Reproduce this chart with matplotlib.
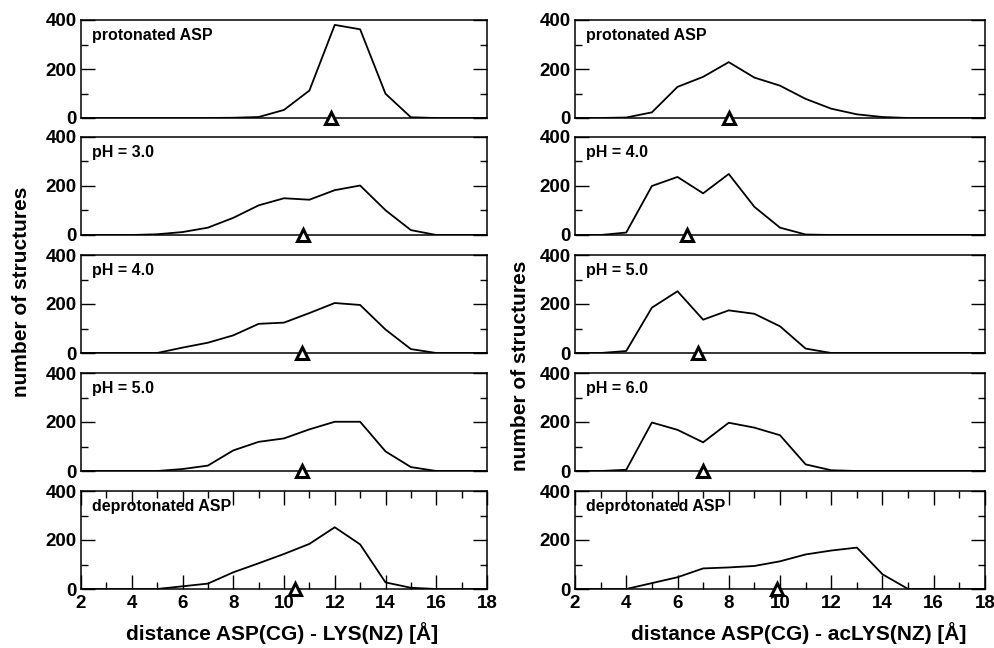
import numpy as np
import matplotlib
matplotlib.use("Agg")
import matplotlib.pyplot as plt
from matplotlib.ticker import MultipleLocator

plt.rcParams['font.family'] = ['Liberation Sans', 'DejaVu Sans']
plt.rcParams['font.weight'] = 'bold'

dist = np.arange(2, 19)

# left column: ASP(CG) - LYS(NZ)
left_labels = ["protonated ASP", "pH = 3.0", "pH = 4.0", "pH = 5.0", "deprotonated ASP"]
left_counts = [
    [0, 0, 0, 0, 0, 0, 1, 4, 33, 112, 380, 362, 99, 3, 0, 0, 0],
    [0, 0, 0, 3, 12, 30, 70, 121, 150, 144, 183, 202, 101, 20, 0, 0, 0],
    [0, 0, 0, 0, 22, 42, 72, 119, 124, 163, 204, 196, 96, 16, 0, 0, 0],
    [0, 0, 0, 0, 8, 22, 84, 119, 133, 170, 201, 201, 80, 16, 0, 0, 0],
    [0, 0, 0, 0, 11, 22, 68, 105, 143, 184, 252, 182, 27, 5, 0, 0, 0],
]
left_means = [11.85, 10.75, 10.69, 10.72, 10.45]

# right column: ASP(CG) - acLYS(NZ)
right_labels = ["protonated ASP", "pH = 4.0", "pH = 5.0", "pH = 6.0", "deprotonated ASP"]
right_counts = [
    [0, 0, 2, 23, 127, 168, 228, 165, 132, 78, 38, 15, 4, 0, 0, 0, 0],
    [0, 0, 10, 200, 237, 170, 249, 115, 30, 2, 0, 0, 0, 0, 0, 0, 0],
    [0, 0, 8, 185, 252, 136, 174, 160, 109, 18, 0, 0, 0, 0, 0, 0, 0],
    [0, 0, 5, 198, 168, 117, 197, 177, 146, 27, 3, 0, 0, 0, 0, 0, 0],
    [0, 0, 0, 24, 48, 84, 88, 94, 113, 141, 157, 169, 60, 0, 0, 0, 0],
]
right_means = [8.0, 6.39, 6.8, 7.0, 9.88]

W, H = 994, 648
fig = plt.figure(figsize=(W / 100, H / 100), dpi=100)

tops = [20, 137, 255, 373, 491]
ph = 98


def panel(x0, width, top, counts, label, mean, last):
    ax = fig.add_axes([x0 / W, 1 - (top + ph) / H, width / W, ph / H])
    ax.plot(dist, counts, color='black', lw=1.3)
    ax.plot([mean], [0], marker='^', ms=9, mfc='white', mec='black',
            mew=2.2, clip_on=False, zorder=5)
    ax.set_xlim(2, 18)
    ax.set_ylim(0, 400)
    ax.yaxis.set_major_locator(MultipleLocator(200))
    ax.yaxis.set_minor_locator(MultipleLocator(100))
    ax.tick_params(axis='y', which='both', direction='in', left=True, right=True,
                   labelsize=13.5, pad=3)
    ax.tick_params(axis='y', which='major', length=10, width=1)
    ax.tick_params(axis='y', which='minor', length=5, width=1)
    if last:
        ax.xaxis.set_major_locator(MultipleLocator(2))
        ax.xaxis.set_minor_locator(MultipleLocator(1))
        ax.tick_params(axis='x', which='both', direction='in', top=True, bottom=True,
                       labelsize=13.5, pad=4)
        ax.tick_params(axis='x', which='major', length=10, width=1)
        ax.tick_params(axis='x', which='minor', length=5, width=1)
    else:
        ax.set_xticks([])
    for s in ax.spines.values():
        s.set_linewidth(1.1)
    ax.text(0.027, 0.84, label, transform=ax.transAxes, fontsize=11.5,
            fontweight='bold', va='center', ha='left')
    for t in ax.get_xticklabels() + ax.get_yticklabels():
        t.set_fontweight('bold')
    return ax


for i in range(5):
    panel(81, 406, tops[i], left_counts[i], left_labels[i], left_means[i], i == 4)
    panel(575, 410, tops[i], right_counts[i], right_labels[i], right_means[i], i == 4)

fig.text(22 / W, 1 - 292 / H, "number of structures", rotation=90, fontsize=15,
         fontweight='bold', ha='center', va='center')
fig.text(520 / W, 1 - 366 / H, "number of structures", rotation=90, fontsize=15,
         fontweight='bold', ha='center', va='center')
fig.text(282 / W, 1 - 633 / H, "distance ASP(CG) - LYS(NZ) [Å]", fontsize=15,
         fontweight='bold', ha='center', va='center')
fig.text(799 / W, 1 - 633 / H, "distance ASP(CG) - acLYS(NZ) [Å]", fontsize=15,
         fontweight='bold', ha='center', va='center')

fig.savefig("out.png", dpi=100)
